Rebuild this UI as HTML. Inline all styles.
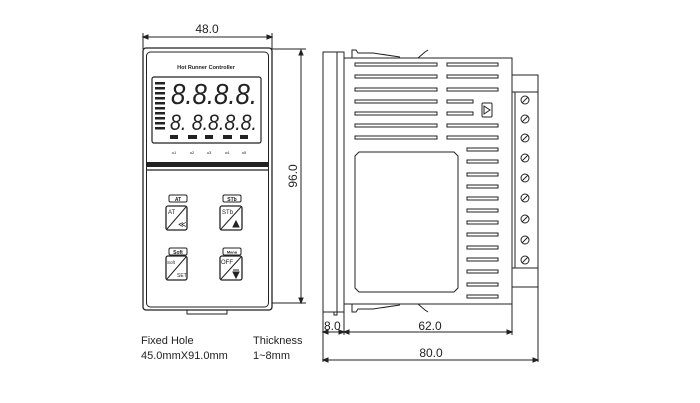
<!DOCTYPE html>
<html><head><style>
html,body{margin:0;padding:0;background:#fff;}
svg{display:block;}
text{font-family:"Liberation Sans",sans-serif;fill:#222;}
</style></head><body>
<svg width="700" height="403" viewBox="0 0 700 403" xmlns="http://www.w3.org/2000/svg">
<g stroke="#222" fill="none" stroke-width="1">
<!-- FRONT VIEW -->
<line x1="143" y1="33" x2="143" y2="49"/><line x1="272" y1="33" x2="272" y2="49"/>
<line x1="143" y1="37" x2="272" y2="37"/>
<path d="M143 37 l5 -2 v4z M272 37 l-5 -2 v4z" fill="#222"/>
<line x1="272" y1="49" x2="306" y2="49"/><line x1="272" y1="303" x2="306" y2="303"/>
<line x1="301" y1="50" x2="301" y2="303"/>
<path d="M301 50 l-2 5 h4z M301 303 l-2 -5 h4z" fill="#222"/>
<rect x="143" y="48" width="129" height="262" rx="3" stroke-width="1.3"/>
<rect x="146.5" y="52" width="122" height="255" rx="4"/>
<path d="M187 310 v4 h40 v-4" />
<rect x="152" y="77" width="109" height="66" rx="2" stroke-width="1.2"/>
<rect x="146" y="162" width="123" height="5" fill="#222" stroke="none"/>
<line x1="146" y1="170" x2="269" y2="170" stroke-width="1.3"/>
<!-- bargraph -->
<g fill="#222" stroke="none">
<rect x="155" y="82" width="10" height="2.5"/><rect x="155" y="87" width="10" height="2.5"/><rect x="155" y="92" width="10" height="2.5"/><rect x="155" y="97" width="10" height="2.5"/><rect x="155" y="102" width="10" height="2.5"/><rect x="155" y="107" width="10" height="2.5"/><rect x="155" y="112" width="10" height="2.5"/><rect x="155" y="117" width="10" height="2.5"/><rect x="155" y="122" width="10" height="2.5"/><rect x="155" y="127" width="10" height="2.5"/>
<rect x="170" y="135" width="8" height="4"/><rect x="188" y="135" width="9" height="4"/><rect x="205" y="135" width="8" height="4"/><rect x="223" y="135" width="9" height="4"/><rect x="240" y="135" width="8" height="4"/>
</g>
<!-- buttons -->
<rect x="169" y="195" width="18" height="7" rx="1.5"/>
<rect x="223" y="195" width="18" height="7" rx="1.5"/>
<rect x="169" y="248" width="18" height="7" rx="1.5"/>
<rect x="223" y="248" width="18" height="7" rx="1.5"/>
<rect x="166" y="206" width="21" height="24" rx="2" stroke-width="1.3"/><line x1="167" y1="229" x2="186" y2="207"/>
<rect x="220" y="206" width="22" height="24" rx="2" stroke-width="1.3"/><line x1="221" y1="229" x2="241" y2="207"/>
<rect x="166" y="256" width="21" height="24" rx="2" stroke-width="1.3"/><line x1="167" y1="279" x2="186" y2="257"/>
<rect x="220" y="256" width="22" height="24" rx="2" stroke-width="1.3"/><line x1="221" y1="279" x2="241" y2="257"/>
<path d="M233 227 l3 -6 l3 6z M233 272 l3 6 l3 -6z" fill="#222"/>
<line x1="233" y1="270" x2="239" y2="270"/>

<!-- SIDE VIEW -->
<rect x="323" y="52" width="21" height="260"/>
<line x1="337" y1="52" x2="337" y2="312"/>
<path d="M334 312 v3 h3 v-3"/>
<rect x="344" y="58" width="168" height="246"/>
<path d="M352 58 v-8 h4 l2 3 h15 l27 4 M418 58 l7 -6 l3 -2 M352 304 v8 h4 l2 -3 h15 l27 -4 M418 304 l7 6 l3 2"/>
<rect x="512" y="75" width="26" height="212"/>
<line x1="512" y1="92" x2="538" y2="92"/><line x1="512" y1="268" x2="538" y2="268"/>
<line x1="515" y1="92" x2="515" y2="268"/>
<g>
<circle cx="525" cy="100" r="4"/><line x1="522" y1="103" x2="528" y2="97"/>
<circle cx="525" cy="119" r="4"/><line x1="522" y1="122" x2="528" y2="116"/>
<circle cx="525" cy="138" r="4"/><line x1="522" y1="141" x2="528" y2="135"/>
<circle cx="525" cy="158" r="4"/><line x1="522" y1="161" x2="528" y2="155"/>
<circle cx="525" cy="178" r="4"/><line x1="522" y1="181" x2="528" y2="175"/>
<circle cx="525" cy="198" r="4"/><line x1="522" y1="201" x2="528" y2="195"/>
<circle cx="525" cy="219" r="4"/><line x1="522" y1="222" x2="528" y2="216"/>
<circle cx="525" cy="240" r="4"/><line x1="522" y1="243" x2="528" y2="237"/>
<circle cx="525" cy="260" r="4"/><line x1="522" y1="263" x2="528" y2="257"/>
</g>
<g stroke-width="1">
<rect x="355" y="63" width="82" height="3"/><rect x="355" y="75" width="82" height="3"/><rect x="355" y="88" width="82" height="3"/><rect x="355" y="100" width="82" height="3"/><rect x="355" y="112" width="82" height="3"/><rect x="355" y="124" width="82" height="3"/><rect x="355" y="136" width="82" height="3"/>
<rect x="447" y="63" width="51" height="3"/><rect x="447" y="75" width="51" height="3"/><rect x="447" y="88" width="51" height="3"/><rect x="447" y="100" width="26" height="3"/><rect x="447" y="112" width="26" height="3"/><rect x="447" y="124" width="51" height="3"/><rect x="447" y="136" width="51" height="3"/>
<rect x="467" y="148" width="31" height="3"/><rect x="467" y="160" width="31" height="3"/><rect x="467" y="173" width="31" height="3"/><rect x="467" y="185" width="31" height="3"/><rect x="467" y="197" width="31" height="3"/><rect x="467" y="209" width="31" height="3"/><rect x="467" y="221" width="31" height="3"/><rect x="467" y="233" width="31" height="3"/><rect x="467" y="246" width="31" height="3"/><rect x="467" y="258" width="31" height="3"/><rect x="467" y="270" width="31" height="3"/><rect x="467" y="283" width="31" height="3"/><rect x="467" y="295" width="31" height="3"/>
</g>
<rect x="482" y="103" width="10" height="14" rx="1"/>
<path d="M484 106 l6 4 l-6 4z"/>
<path d="M359 152 h95 l4 4 v132 l-4 4 h-95 l-4 -4 v-132z"/>
<!-- side dims -->
<line x1="323" y1="312" x2="323" y2="362"/><line x1="344" y1="312" x2="344" y2="335"/>
<line x1="512" y1="304" x2="512" y2="335"/><line x1="538" y1="287" x2="538" y2="362"/>
<line x1="323" y1="332" x2="512" y2="332"/><line x1="323" y1="360" x2="538" y2="360"/>
<path d="M344 332 l5 -2 v4z M512 332 l-5 -2 v4z M323 360 l5 -2 v4z M538 360 l-5 -2 v4z M323 332 l5 -2 v4z M344 332 l-5 -2 v4z" fill="#222"/>
</g>
<!-- TEXT -->
<text x="207" y="33" font-size="12" text-anchor="middle">48.0</text>
<text x="0" y="0" font-size="12" text-anchor="middle" transform="translate(297,176) rotate(-90)">96.0</text>
<text x="206" y="69" font-size="5.5" font-weight="bold" text-anchor="middle">Hot Runner Controller</text>
<text x="171" y="104" font-size="29" font-style="italic" textLength="86" lengthAdjust="spacingAndGlyphs">8.8.8.8.</text>
<text x="170" y="130" font-size="22" font-style="italic" textLength="87" lengthAdjust="spacingAndGlyphs">8. 8.8.8.8.</text>
<g font-size="4" text-anchor="middle"><text x="174" y="154">o1</text><text x="192" y="154">o2</text><text x="209" y="154">o3</text><text x="227" y="154">o4</text><text x="244" y="154">o5</text></g>
<g font-size="5" font-weight="bold" text-anchor="middle"><text x="178" y="201">AT</text><text x="232" y="201">STb</text><text x="178" y="254">Soft</text><text x="232" y="253.5" font-size="4">Mana</text></g>
<g font-size="6"><text x="168" y="214">AT</text><text x="222" y="214">STb</text><text x="167" y="264" font-size="4.5">Soft</text><text x="221" y="264">OFF</text><text x="178" y="227" font-size="8">≪</text><text x="177" y="277" font-size="5">SET</text></g>
<g font-size="11"><text x="141" y="344">Fixed Hole</text><text x="141" y="359">45.0mmX91.0mm</text><text x="253" y="344">Thickness</text><text x="253" y="359">1~8mm</text></g>
<g font-size="12"><text x="324" y="330">8.0</text><text x="430" y="330" text-anchor="middle">62.0</text><text x="431" y="357" text-anchor="middle">80.0</text></g>
</svg>
</body></html>
